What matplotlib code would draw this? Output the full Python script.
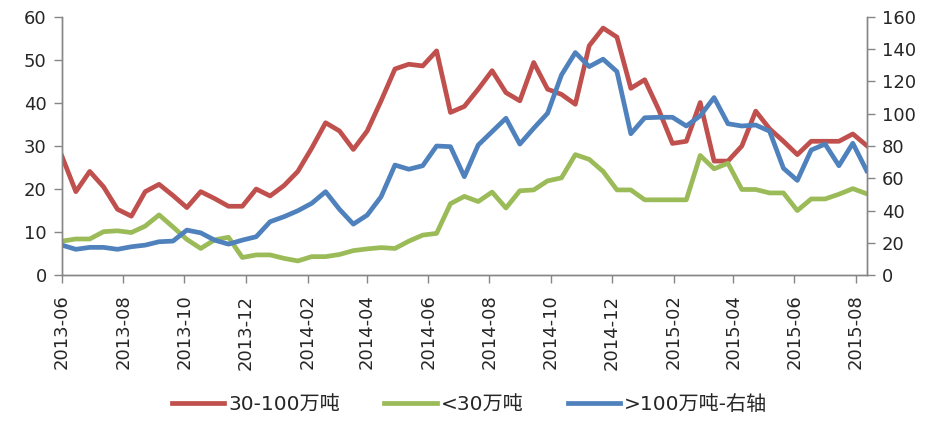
# Three-series line chart with a secondary axis (tonnage groups)

import pandas as pd
import matplotlib.pyplot as plt

plt.rcParams['font.family'] = ['DejaVu Sans', 'Noto Sans CJK SC']

# observation dates (59 points, roughly every two weeks)
dates = pd.date_range('2013-06-01', '2015-08-12', periods=59)

# 30-100万吨 (left axis)
mid = [27.6, 19.4, 24.1, 20.5, 15.3, 13.7, 19.4, 21.1, 18.5, 15.7,
       19.4, 17.8, 16.0, 16.0, 20.0, 18.4, 20.8, 24.1, 29.5, 35.4,
       33.5, 29.2, 33.5, 40.5, 47.9, 49.0, 48.6, 52.1, 37.8, 39.2,
       43.2, 47.5, 42.4, 40.5, 49.4, 43.2, 42.0, 39.7, 53.3, 57.4,
       55.3, 43.4, 45.4, 38.5, 30.6, 31.1, 40.1, 26.5, 26.5, 30.0,
       38.1, 34.0, 31.1, 28.0, 31.1, 31.1, 31.1, 32.8, 30.1]

# <30万吨 (left axis)
small = [7.9, 8.4, 8.4, 10.1, 10.3, 9.9, 11.4, 14.0, 11.2, 8.3,
         6.2, 8.2, 8.8, 4.1, 4.7, 4.7, 3.9, 3.3, 4.3, 4.3,
         4.8, 5.7, 6.1, 6.4, 6.2, 7.9, 9.3, 9.7, 16.6, 18.3,
         17.1, 19.3, 15.6, 19.6, 19.8, 21.9, 22.6, 28.0, 26.9, 24.1,
         19.8, 19.8, 17.5, 17.5, 17.5, 17.5, 27.8, 24.7, 26.0, 19.9,
         19.9, 19.1, 19.1, 15.0, 17.7, 17.7, 18.8, 20.1, 18.9]

# >100万吨 (right axis)
big = [18.6, 16.0, 17.2, 17.2, 16.0, 17.6, 18.6, 20.7, 21.1, 27.9,
       26.2, 21.7, 19.2, 21.7, 23.8, 33.1, 36.2, 39.9, 44.5, 51.7,
       40.8, 31.6, 37.2, 48.6, 68.2, 65.6, 67.8, 80.0, 79.6, 61.0,
       80.6, 88.9, 97.2, 81.2, 91.0, 100.3, 124.0, 137.9, 129.2, 133.8,
       126.1, 87.6, 97.5, 97.8, 97.8, 92.4, 98.7, 110.0, 93.8, 92.4,
       93.0, 89.2, 66.2, 58.7, 77.5, 81.2, 67.8, 81.7, 64.7]

labels = ['30-100万吨', '<30万吨', '>100万吨-右轴']
colors = ['#C0504D', '#9BBB59', '#4F81BD']
axis_gray = '#868686'
text_col = '#262626'

fig, ax = plt.subplots(figsize=(9.39, 4.22), dpi=100)
fig.subplots_adjust(left=0.066, right=0.923, bottom=0.348, top=0.96)
ax2 = ax.twinx()

l1, = ax.plot(dates, mid, color=colors[0], lw=3.4, label=labels[0])
l2, = ax.plot(dates, small, color=colors[1], lw=3.4, label=labels[1])
l3, = ax2.plot(dates, big, color=colors[2], lw=3.4, label=labels[2])

ax.set_ylim(0, 60)
ax.set_yticks(range(0, 61, 10))
ax2.set_ylim(0, 160)
ax2.set_yticks(range(0, 161, 20))
ax.set_xlim(dates[0], dates[-1])

xt = pd.date_range('2013-06-01', '2015-08-01', freq='2MS')
ax.set_xticks(xt)
ax.set_xticklabels([d.strftime('%Y-%m') for d in xt], rotation=90)

for a in (ax, ax2):
    a.spines['top'].set_visible(False)
    for s in ('left', 'right', 'bottom'):
        a.spines[s].set_color(axis_gray)
        a.spines[s].set_linewidth(1.0)
    a.tick_params(axis='both', direction='out', length=6, width=1,
                  color=axis_gray, labelcolor=text_col, labelsize=13)
ax.tick_params(axis='x', pad=8)
ax.tick_params(axis='y', pad=5)
ax2.tick_params(axis='y', pad=5)

fig.legend(handles=[l1, l2, l3], loc='lower center', ncol=3,
           bbox_to_anchor=(0.5, -0.025), frameon=False, fontsize=14.5,
           handlelength=2.6, handletextpad=0.2, columnspacing=2.2,
           labelcolor=text_col)

fig.savefig('out.png', dpi=100)
